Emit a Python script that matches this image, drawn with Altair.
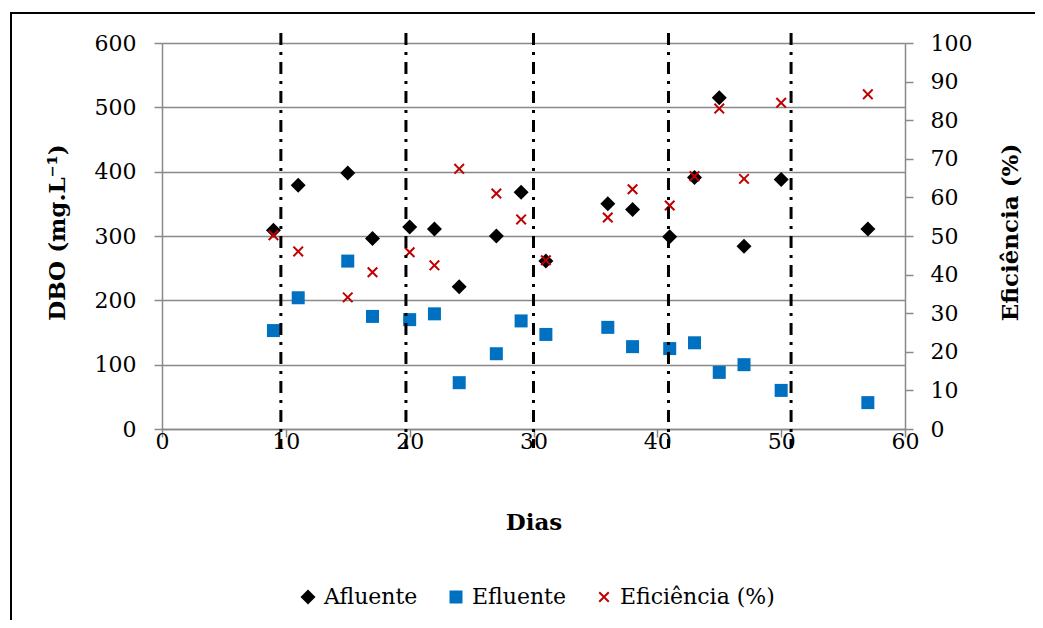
import altair as alt
import pandas as pd

# ---- data ----
dias = [9, 11, 15, 17, 20, 22, 24, 27, 29, 31, 36, 38, 41, 43, 45, 47, 50, 57]
afluente = [309, 379, 398, 296, 314, 311, 221, 300, 368, 261, 350, 341, 299, 391, 515, 284, 388, 311]
efluente = [153, 204, 261, 175, 170, 179, 72, 117, 168, 147, 158, 128, 125, 134, 88, 100, 60, 41]
eficiencia = [50.2, 46.0, 34.1, 40.6, 45.8, 42.4, 67.4, 61.0, 54.3, 43.7, 54.8, 62.1, 57.9, 65.5, 83.0, 64.8, 84.5, 86.7]
divisorias = [9.6, 19.7, 30.0, 40.9, 50.8]

series = ["Afluente", "Efluente", "Eficiência (%)"]
x_ticks = [0, 10, 20, 30, 40, 50, 60]
y_ticks = [0, 100, 200, 300, 400, 500, 600]
y2_ticks = [0, 10, 20, 30, 40, 50, 60, 70, 80, 90, 100]

df_dbo = pd.DataFrame({
    "Dia": dias + dias,
    "Valor": afluente + efluente,
    "Serie": ["Afluente"] * len(dias) + ["Efluente"] * len(dias),
})
df_ef = pd.DataFrame({"Dia": dias, "Ef": eficiencia, "Serie": ["Eficiência (%)"] * len(dias)})
df_div = pd.DataFrame({"Dia": divisorias})
df_frame = pd.DataFrame({"k": [0]})

FONT = "DejaVu Serif"
GRAY = "#898989"

e, a = 0.733, 0.19
x_path = (f"M{-e},{-e+a}L{-e+a},{-e}L0,{-a}L{e-a},{-e}L{e},{-e+a}L{a},0"
          f"L{e},{e-a}L{e-a},{e}L0,{a}L{-e+a},{e}L{-e},{e-a}L{-a},0Z")
sq = 0.867
sq_path = f"M{-sq},{-sq}L{sq},{-sq}L{sq},{sq}L{-sq},{sq}Z"
shapes = ["M-1,0L0,-1L1,0L0,1Z", sq_path, x_path]
colors = ["#000000", "#0070C0", "#C00000"]

legend = alt.Legend(
    orient="none", legendX=135, legendY=543, direction="horizontal", title=None,
    labelFont=FONT, labelFontSize=22, labelColor="black", symbolSize=225,
    symbolStrokeWidth=0, labelOffset=5, columnPadding=27, padding=0,
)
color_enc = alt.Color("Serie:N", scale=alt.Scale(domain=series, range=colors), legend=legend)
shape_enc = alt.Shape("Serie:N", scale=alt.Scale(domain=series, range=shapes), legend=legend)

x_enc = alt.X(
    "Dia:Q",
    scale=alt.Scale(domain=[0, 60], nice=False),
    axis=alt.Axis(
        values=x_ticks, title="Dias", grid=False, domainColor=GRAY, domainWidth=1.5,
        tickColor=GRAY, tickWidth=1.5, tickSize=8, labelFont=FONT, labelFontSize=22,
        labelColor="black", labelPadding=-6, labelFlush=False, titleFont=FONT, titleFontSize=23,
        titleFontWeight="bold", titleColor="black", titleY=93, titleBaseline="middle",
    ),
)

frame = alt.Chart(df_frame).mark_rect(fillOpacity=0, stroke="black", strokeWidth=2).encode(
    x=alt.value(-151), x2=alt.value(1100), y=alt.value(-30), y2=alt.value(700)
)

pts_dbo = alt.Chart(df_dbo).mark_point(filled=True, size=225, opacity=1, strokeWidth=0).encode(
    x=x_enc,
    y=alt.Y(
        "Valor:Q",
        scale=alt.Scale(domain=[0, 600], nice=False),
        axis=alt.Axis(
            values=y_ticks, title="DBO (mg.L⁻¹)", grid=True, gridColor=GRAY, gridWidth=1.5,
            domainColor=GRAY, domainWidth=1.5, tickColor=GRAY, tickWidth=1.5, tickSize=8,
            labelFont=FONT, labelFontSize=22, labelColor="black", labelPadding=18,
            titleFont=FONT, titleFontSize=23, titleFontWeight="bold", titleColor="black",
            titleX=-105, titleY=189, titleAngle=270, titleAlign="center", titleBaseline="middle",
        ),
    ),
    color=color_enc,
    shape=shape_enc,
)

pts_ef = alt.Chart(df_ef).mark_point(filled=True, size=225, opacity=1, strokeWidth=0).encode(
    x=x_enc,
    y=alt.Y(
        "Ef:Q",
        scale=alt.Scale(domain=[0, 100], nice=False),
        axis=alt.Axis(
            orient="right", values=y2_ticks, title="Eficiência (%)", grid=False,
            domainColor=GRAY, domainWidth=1.5, tickColor=GRAY, tickWidth=1.5, tickSize=8,
            labelFont=FONT, labelFontSize=22, labelColor="black", labelPadding=17,
            titleFont=FONT, titleFontSize=23, titleFontWeight="bold", titleColor="black",
            titleX=105, titleY=189, titleAngle=270, titleAlign="center", titleBaseline="middle",
        ),
    ),
    color=color_enc,
    shape=shape_enc,
)

rules = alt.Chart(df_div).mark_rule(color="black", strokeWidth=3, strokeDash=[12, 7, 3, 7]).encode(
    x=x_enc, y=alt.value(-10), y2=alt.value(405)
)

chart = (
    alt.layer(frame, pts_dbo, pts_ef, rules)
    .resolve_scale(y="independent")
    .properties(
        width=743, height=386,
        autosize=alt.AutoSizeParams(type="none"),
        padding={"left": 154, "top": 35, "right": 130, "bottom": 191},
        background="white",
    )
    .configure_view(stroke=None)
)

chart.save("out.html", embed_options={"renderer": "svg", "actions": False})
